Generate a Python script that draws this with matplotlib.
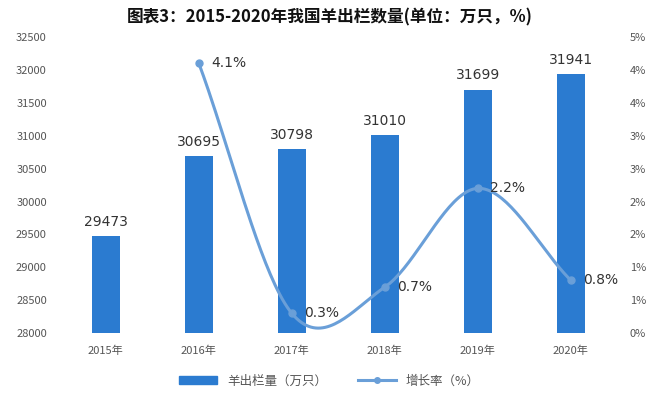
import numpy as np
import matplotlib
matplotlib.use("Agg")
import matplotlib.pyplot as plt
from matplotlib.lines import Line2D
from matplotlib.patches import Patch

plt.rcParams['font.family'] = ['Noto Sans CJK SC', 'DejaVu Sans']

# data
years = ["2015年", "2016年", "2017年", "2018年", "2019年", "2020年"]
stock = [29473, 30695, 30798, 31010, 31699, 31941]
growth = [None, 4.1, 0.3, 0.7, 2.2, 0.8]
growth_labels = ["", "4.1%", "0.3%", "0.7%", "2.2%", "0.8%"]
right_ticks = [0, 0.5, 1.0, 1.5, 2.0, 2.5, 3.0, 3.5, 4.0, 4.5]
right_tick_labels = ["0%", "1%", "1%", "2%", "2%", "3%", "3%", "4%", "4%", "5%"]

bar_color = "#2b7bd0"
line_color = "#6a9fd8"
text_color = "#333333"
tick_color = "#555555"

fig = plt.figure(figsize=(6.59, 3.98), dpi=100)
ax = fig.add_axes([0.090, 0.163, 0.847, 0.744])
ax2 = ax.twinx()

x = np.arange(len(years))
ax.bar(x, stock, width=0.3, color=bar_color, zorder=2)
for xi, v in zip(x, stock):
    ax.text(xi, v + 110, str(v), ha="center", va="bottom", fontsize=10,
            color=text_color, family="DejaVu Sans")

ax.set_ylim(28000, 32500)
ax.set_yticks(np.arange(28000, 32501, 500))
ax.set_xlim(-0.5, 5.5)
ax.set_xticks(x)
ax.set_xticklabels(years)
ax.tick_params(axis="both", length=0, labelsize=8, colors=tick_color)
ax.tick_params(axis="x", pad=9)
ax.tick_params(axis="y", pad=9)

# smoothed growth line (Catmull-Rom through the data points)
gx = np.array([i for i, g in enumerate(growth) if g is not None], dtype=float)
gy = np.array([g for g in growth if g is not None], dtype=float)
px = np.concatenate([[2 * gx[0] - gx[1]], gx, [2 * gx[-1] - gx[-2]]])
py = np.concatenate([[2 * gy[0] - gy[1]], gy, [2 * gy[-1] - gy[-2]]])
sx, sy = [], []
t = np.linspace(0, 1, 40)
for i in range(1, len(px) - 2):
    for arr, out in ((px, sx), (py, sy)):
        p0, p1, p2, p3 = arr[i - 1], arr[i], arr[i + 1], arr[i + 2]
        seg = 0.5 * ((2 * p1) + (-p0 + p2) * t
                     + (2 * p0 - 5 * p1 + 4 * p2 - p3) * t ** 2
                     + (-p0 + 3 * p1 - 3 * p2 + p3) * t ** 3)
        out.extend(seg)
ax2.plot(sx, sy, color=line_color, lw=2.2, zorder=3)
ax2.plot(gx, gy, "o", color=line_color, ms=5, zorder=4)
for xi, g, lab in zip(x, growth, growth_labels):
    if g is None:
        continue
    ax2.text(xi + 0.13, g, lab, ha="left", va="center", fontsize=10,
             color=text_color, family="DejaVu Sans")

ax2.set_ylim(0, 4.5)
ax2.set_yticks(right_ticks)
ax2.set_yticklabels(right_tick_labels)
ax2.tick_params(axis="y", length=0, labelsize=8, colors=tick_color, pad=9)

for a in (ax, ax2):
    for s in a.spines.values():
        s.set_visible(False)

fig.text(0.5, 0.955, "图表3：2015-2020年我国羊出栏数量(单位：万只，%)",
         ha="center", va="center", fontsize=12, fontweight="bold", color="#111111")

handles = [Patch(color=bar_color),
           Line2D([0], [0], color=line_color, lw=2.2, marker="o", ms=4)]
fig.legend(handles, ["羊出栏量（万只）", "增长率（%）"], loc="center",
           bbox_to_anchor=(0.5, 0.043), ncol=2, frameon=False, fontsize=9,
           handlelength=3, handleheight=0.6, columnspacing=2.5,
           labelcolor=tick_color)

fig.savefig("out.png", dpi=100, facecolor="white")
